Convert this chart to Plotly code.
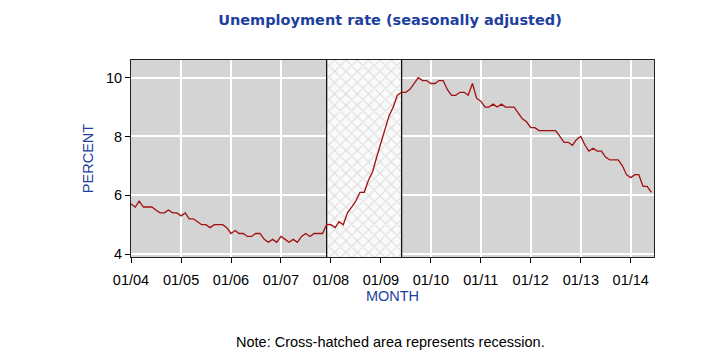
import plotly.graph_objects as go
import pandas as pd

# Monthly unemployment rate, Jan 2004 - Jun 2014
rate_2004 = [5.7, 5.6, 5.8, 5.6, 5.6, 5.6, 5.5, 5.4, 5.4, 5.5, 5.4, 5.4]
rate_2005 = [5.3, 5.4, 5.2, 5.2, 5.1, 5.0, 5.0, 4.9, 5.0, 5.0, 5.0, 4.9]
rate_2006 = [4.7, 4.8, 4.7, 4.7, 4.6, 4.6, 4.7, 4.7, 4.5, 4.4, 4.5, 4.4]
rate_2007 = [4.6, 4.5, 4.4, 4.5, 4.4, 4.6, 4.7, 4.6, 4.7, 4.7, 4.7, 5.0]
rate_2008 = [5.0, 4.9, 5.1, 5.0, 5.4, 5.6, 5.8, 6.1, 6.1, 6.5, 6.8, 7.3]
rate_2009 = [7.8, 8.3, 8.7, 9.0, 9.4, 9.5, 9.5, 9.6, 9.8, 10.0, 9.9, 9.9]
rate_2010 = [9.8, 9.8, 9.9, 9.9, 9.6, 9.4, 9.4, 9.5, 9.5, 9.4, 9.8, 9.3]
rate_2011 = [9.2, 9.0, 9.0, 9.1, 9.0, 9.1, 9.0, 9.0, 9.0, 8.8, 8.6, 8.5]
rate_2012 = [8.3, 8.3, 8.2, 8.2, 8.2, 8.2, 8.2, 8.0, 7.8, 7.8, 7.7, 7.9]
rate_2013 = [8.0, 7.7, 7.5, 7.6, 7.5, 7.5, 7.3, 7.2, 7.2, 7.2, 7.0, 6.7]
rate_2014 = [6.6, 6.7, 6.7, 6.3, 6.3, 6.1]

rates = (rate_2004 + rate_2005 + rate_2006 + rate_2007 + rate_2008 + rate_2009
         + rate_2010 + rate_2011 + rate_2012 + rate_2013 + rate_2014)
months = pd.date_range("2004-01-01", periods=len(rates), freq="MS")

recession_start = "2007-12-01"
recession_end = "2009-06-01"

y_range = [3.9, 10.6]
x_range = ["2004-01-01", "2014-06-20"]
tick_vals = pd.date_range("2004-01-01", "2014-01-01", freq="YS")

BLUE = "#1f3f9f"
FS = 14.5

fig = go.Figure()

# Recession cross-hatched area
fig.add_trace(go.Scatter(
    x=[recession_start, recession_start, recession_end, recession_end, recession_start],
    y=[y_range[0], y_range[1], y_range[1], y_range[0], y_range[0]],
    mode="lines", fill="toself", line=dict(width=0),
    fillcolor="rgba(0,0,0,0)",
    fillpattern=dict(shape="x", bgcolor="#fafafa", fgcolor="#bcbcbc", size=8, solidity=0.25),
    hoverinfo="skip", showlegend=False,
))

# Recession boundary lines
for d in [recession_start, recession_end]:
    fig.add_trace(go.Scatter(
        x=[d, d], y=y_range, mode="lines",
        line=dict(color="#111111", width=1.3),
        hoverinfo="skip", showlegend=False,
    ))

fig.add_trace(go.Scatter(
    x=months, y=rates, mode="lines",
    line=dict(color="#a01010", width=1.3),
    showlegend=False,
))

# page body adds an 8px offset; figure sized to fit the 720x360 window
fig.update_layout(
    width=712, height=352,
    margin=dict(l=123, r=66, t=52, b=103),
    paper_bgcolor="white",
    plot_bgcolor="#d4d4d4",
    font=dict(family="Liberation Sans, Arial", size=FS, color="black"),
    title=dict(
        text="<b>Unemployment rate (seasonally adjusted)</b>",
        x=382 / 712, xanchor="center", y=1 - 12 / 352, yanchor="middle",
        font=dict(family="DejaVu Sans", size=14.5, color=BLUE),
    ),
    annotations=[dict(
        text="Note: Cross-hatched area represents recession.",
        xref="paper", yref="paper", x=(382 - 123) / 523, y=-(334 - 249) / 197,
        xanchor="center", yanchor="middle", showarrow=False,
        font=dict(family="Liberation Sans, Arial", size=FS, color="black"),
    )],
)

fig.update_xaxes(
    range=x_range, tickvals=tick_vals, tickformat="%m/%y",
    showgrid=True, gridcolor="white", gridwidth=1.5,
    ticks="outside", ticklen=5, tickcolor="black", ticklabelstandoff=5,
    showline=True, linecolor="#222222", linewidth=1, mirror=True,
    title=dict(text="MONTH", font=dict(color=BLUE, size=FS), standoff=0),
    zeroline=False,
)
fig.update_yaxes(
    range=y_range, tickvals=[4, 6, 8, 10],
    showgrid=True, gridcolor="white", gridwidth=1.5,
    ticks="outside", ticklen=5, tickcolor="black",
    showline=True, linecolor="#222222", linewidth=1, mirror=True,
    title=dict(text="PERCENT", font=dict(color=BLUE, size=FS), standoff=8),
    zeroline=False,
)

fig.write_html("out.html")
